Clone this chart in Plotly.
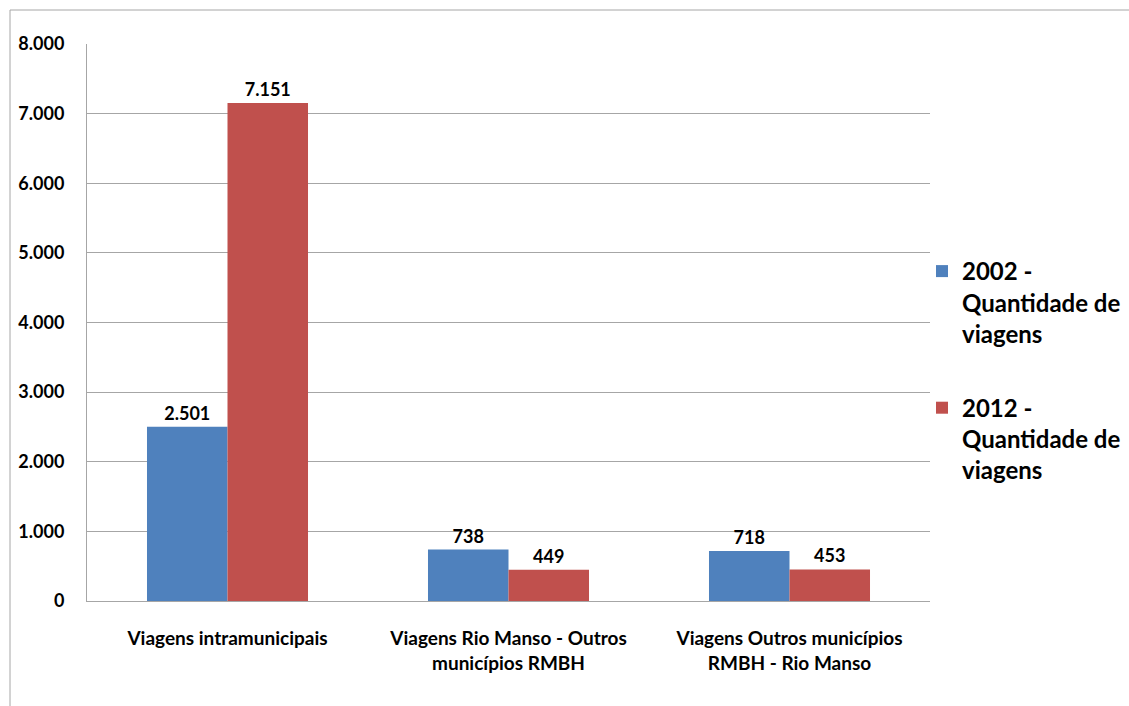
import plotly.graph_objects as go

categories = ["Viagens intramunicipais",
              "Viagens Rio Manso - Outros<br>municípios RMBH",
              "Viagens Outros municípios<br>RMBH - Rio Manso"]
series_names = ["2002 -<br>Quantidade de<br>viagens", "2012 -<br>Quantidade de<br>viagens"]
values_2002 = [2501, 738, 718]
values_2012 = [7151, 449, 453]
colors = ["#4F81BD", "#C0504D"]
y_ticks = [0, 1000, 2000, 3000, 4000, 5000, 6000, 7000, 8000]
y_tick_labels = ["0", "1.000", "2.000", "3.000", "4.000", "5.000", "6.000", "7.000", "8.000"]

FONT = "Lato"

def fmt(v):
    return f"{v:,}".replace(",", ".")

fig = go.Figure()
for i, (name, vals, col) in enumerate(zip(series_names, [values_2002, values_2012], colors)):
    fig.add_trace(go.Bar(
        x=categories, y=vals, name=name, legendgroup=f"g{i}",
        marker=dict(color=col, line=dict(width=0)),
        text=[fmt(v) for v in vals], textposition="outside",
        textfont=dict(family=FONT, size=18, color="#000000", weight="bold"),
        cliponaxis=False,
    ))

L, T, R, B = 87, 44, 199, 105
W, H = 1129, 706
pw, ph = W - L - R, H - T - B

def px(x):
    return (x - L) / pw

def py(y):
    return (H - B - y) / ph

fig.update_layout(
    width=W, height=H,
    margin=dict(l=L, r=R, t=T, b=B, autoexpand=False),
    paper_bgcolor="white", plot_bgcolor="white",
    barmode="group", bargap=0.427, bargroupgap=0,
    font=dict(family=FONT, color="#000000"),
    showlegend=True,
    legend=dict(
        xref="container", yref="container",
        x=922 / W, y=1 - 249 / H, xanchor="left", yanchor="top",
        font=dict(family=FONT, size=24, color="#000000", weight="bold"),
        tracegroupgap=40, valign="top",
        bgcolor="rgba(0,0,0,0)",
    ),
    xaxis=dict(
        showline=True, linecolor="#A6A6A6", linewidth=1,
        ticks="", tickfont=dict(family=FONT, size=19, color="#000000", weight="bold"),
        ticklabelstandoff=20, fixedrange=True,
    ),
    yaxis=dict(
        range=[0, 8000], tickvals=y_ticks, ticktext=y_tick_labels,
        showgrid=True, gridcolor="#A6A6A6", gridwidth=1,
        showline=True, linecolor="#A6A6A6", linewidth=1,
        zeroline=False, ticks="",
        tickfont=dict(family=FONT, size=18, color="#000000", weight="bold"),
        ticklabelstandoff=18, fixedrange=True,
    ),
    shapes=[
        dict(type="line", xref="paper", yref="paper", x0=px(10), x1=px(10), y0=py(10), y1=py(706),
             line=dict(color="#A6A6A6", width=1)),
        dict(type="line", xref="paper", yref="paper", x0=px(10), x1=px(1129), y0=py(10), y1=py(10),
             line=dict(color="#A6A6A6", width=1)),
    ],
)

fig.write_html("out.html", config={"displayModeBar": False},
               post_script="document.body.style.margin='0';")
